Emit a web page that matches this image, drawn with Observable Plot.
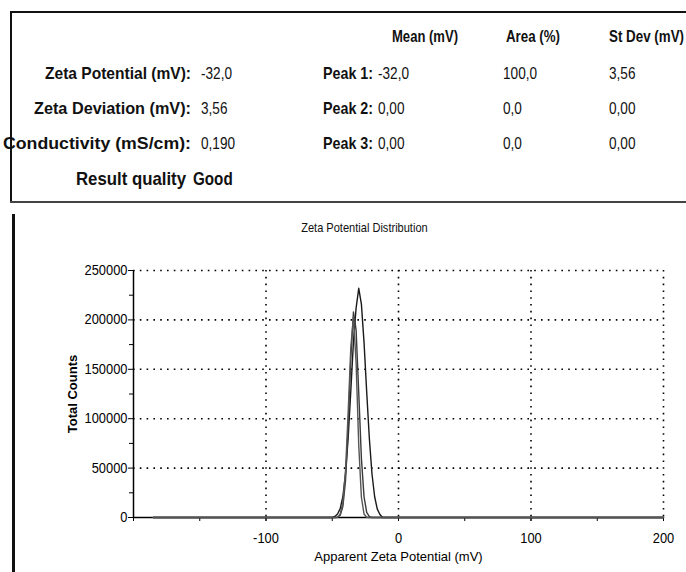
<!DOCTYPE html>
<html>
<head>
<meta charset="utf-8">
<script src="https://cdn.jsdelivr.net/npm/d3@7"></script>
<script src="https://cdn.jsdelivr.net/npm/@observablehq/plot@0.6"></script>
<style>
  html, body { margin:0; padding:0; background:#fff; }
  #page { position:relative; width:686px; height:572px; overflow:hidden; background:#fff;
          font-family:"Liberation Sans",Arial,sans-serif; color:#111; }
  .t { position:absolute; white-space:nowrap; line-height:1; transform-origin:0 50%; }
  .b { font-weight:bold; }
  .ln { position:absolute; background:#111; }
  #chart { position:absolute; left:0; top:245px; }
  #ctitle { position:absolute; left:0; width:728px; top:220px; text-align:center; font-size:13px; }
  #ctitle span { display:inline-block; transform:scaleX(0.85); }
</style>
</head>
<body>
<div id="page">
  <div class="ln" style="left:10px;top:11px;width:676px;height:2px"></div>
  <div class="ln" style="left:10px;top:11px;width:2px;height:192px"></div>
  <div class="ln" style="left:10px;top:201px;width:676px;height:2px;background:#444"></div>
  <div class="ln" style="left:12px;top:214px;width:3px;height:358px"></div>
  <div id="ctitle"><span></span></div>
  <div id="chart"></div>
</div>
<script>
// ---- header table data ----
const headerCols = ["Mean (mV)", "Area (%)", "St Dev (mV)"];
const summaryLabels = ["Zeta Potential (mV):", "Zeta Deviation (mV):", "Conductivity (mS/cm):", "Result quality"];
const summaryValues = ["-32,0", "3,56", "0,190", "Good"];
const peakLabels = ["Peak 1:", "Peak 2:", "Peak 3:"];
const peakMeans = ["-32,0", "0,00", "0,00"];
const peakAreas = ["100,0", "0,0", "0,0"];
const peakStDevs = ["3,56", "0,00", "0,00"];

// ---- chart data ----
const chartTitle = "Zeta Potential Distribution";
const xLabel = "Apparent Zeta Potential (mV)";
const yLabel = "Total Counts";
const xTickLabels = [-100, 0, 100, 200];
const xMinorTicks = [-200, -150, -100, -50, 0, 50, 100, 150, 200];
const yTickLabels = [0, 50000, 100000, 150000, 200000, 250000];
const yMinorTicks = [25000, 75000, 125000, 175000, 225000];

const run1Zeta =   [-185, -60, -50, -48, -46, -44, -42, -40, -38, -36, -34, -32, -30, -28, -26, -24, -22, -20, -18, -16, -14, -12, 0, 30, 200];
const run1Counts = [0, 0, 0, 1000, 3500, 9000, 21000, 44000, 80000, 128000, 178000, 212000, 232000, 216000, 177000, 127000, 80000, 44000, 21000, 8500, 3000, 0, 0, 0, 0];
const run2Zeta =   [-185, -48, -46, -44, -42, -40, -38, -36, -34, -32, -30, -28, -26, -24, -22, -20, 200];
const run2Counts = [0, 0, 400, 2300, 11000, 37000, 91000, 161000, 208000, 190000, 126000, 60000, 21000, 5200, 900, 0, 0];
const run3Zeta =   [-185, -46, -44, -42, -40, -38, -36, -34, -32, -30, -28, -26, -24, -22, 200];
const run3Counts = [0, 0, 3400, 15000, 47000, 106000, 172000, 203000, 157000, 73000, 20500, 3500, 300, 0, 0];

// ---- header layout ----
const page = document.getElementById("page");
function put(text, left, cy, size, bold, sx, targetW) {
  const s = document.createElement("div");
  s.className = "t" + (bold ? " b" : "");
  s.textContent = text;
  s.style.fontSize = size + "px";
  s.style.left = left + "px";
  s.style.top = (cy - size / 2) + "px";
  page.appendChild(s);
  let k = sx;
  if (targetW) k = targetW / s.getBoundingClientRect().width;
  s.style.transform = `scaleX(${k})`;
  return s;
}
const rowY = [73, 108, 143, 178];
const headerY = 37;
const headerX = [392, 506, 609];
const headerW = [66, 54, 75];
headerCols.forEach((h, i) => put(h, headerX[i], headerY, 16, true, 1, headerW[i]));
const labelLeft = [45, 34, 3, 76];
const labelRight = [191, 191, 191, 186];
summaryLabels.forEach((l, i) => put(l, labelLeft[i], rowY[i], i === 3 ? 19 : 17, true, 1, labelRight[i] - labelLeft[i]));
summaryValues.forEach((v, i) => put(v, i === 3 ? 193 : 201, rowY[i], i === 3 ? 19 : 17, i === 3, 0.8, null));
peakLabels.forEach((l, i) => put(l, 323, rowY[i], 17, true, 1, 50));
peakMeans.forEach((v, i) => put(v, 378, rowY[i], 17, false, 0.8, null));
peakAreas.forEach((v, i) => put(v, 503, rowY[i], 17, false, 0.8, null));
peakStDevs.forEach((v, i) => put(v, 609, rowY[i], 17, false, 0.8, null));

// ---- chart ----
const runs = [
  {z: run1Zeta, c: run1Counts, stroke: "#1a1a1a"},
  {z: run2Zeta, c: run2Counts, stroke: "#3a3a3a"},
  {z: run3Zeta, c: run3Counts, stroke: "#555"}
];
const dotted = {stroke: "#000", strokeOpacity: 1, strokeWidth: 1.6, strokeDasharray: "1.6,5.2"};
const chart = Plot.plot({
  width: 686, height: 327,
  marginLeft: 133, marginRight: 23, marginTop: 25, marginBottom: 55,
  style: {fontFamily: "'Liberation Sans',Arial,sans-serif", fontSize: "13px", color: "#000", background: "transparent"},
  x: {domain: [-200, 200]},
  y: {domain: [0, 250000]},
  marks: [
    Plot.gridY(yTickLabels.filter(d => d > 0), dotted),
    Plot.gridX(xTickLabels, dotted),
    Plot.axisX(xMinorTicks, {tickSize: 4, tickFormat: () => "", label: null}),
    Plot.axisX(xTickLabels, {tickSize: 4, tickPadding: 12, tickFormat: d => String(d), label: xLabel, labelAnchor: "center", labelArrow: "none", labelOffset: 43, fontSize: 14}),
    Plot.axisY(yMinorTicks, {tickSize: 4, tickFormat: () => "", label: null}),
    Plot.axisY(yTickLabels, {tickSize: 5, tickPadding: 1, tickFormat: d => String(d), label: yLabel, labelAnchor: "center", labelArrow: "none", labelOffset: 66, fontSize: 14}),
    Plot.ruleX([-200], {stroke: "#000", strokeWidth: 1.5}),
    Plot.ruleY([0], {stroke: "#000", strokeWidth: 1.5}),
    ...runs.map(r => Plot.line(r.z.map((z, i) => ({z, c: r.c[i]})), {x: "z", y: "c", stroke: r.stroke, strokeWidth: 1.4}))
  ]
});
// condensed look for chart texts, bold axis title
d3.select(chart).selectAll('g[aria-label="y-axis label"] text').attr("font-weight", "bold").attr("font-size", 13);
d3.select(chart).selectAll('g[aria-label="x-axis label"] text').attr("font-size", 13);
d3.select(chart).selectAll('g[aria-label$="tick label"] text').each(function () {
  const t = d3.select(this);
  t.attr("transform", (t.attr("transform") || "") + " scale(0.92,1)");
});
document.getElementById("chart").appendChild(chart);
document.querySelector("#ctitle span").textContent = chartTitle;
</script>
</body>
</html>
